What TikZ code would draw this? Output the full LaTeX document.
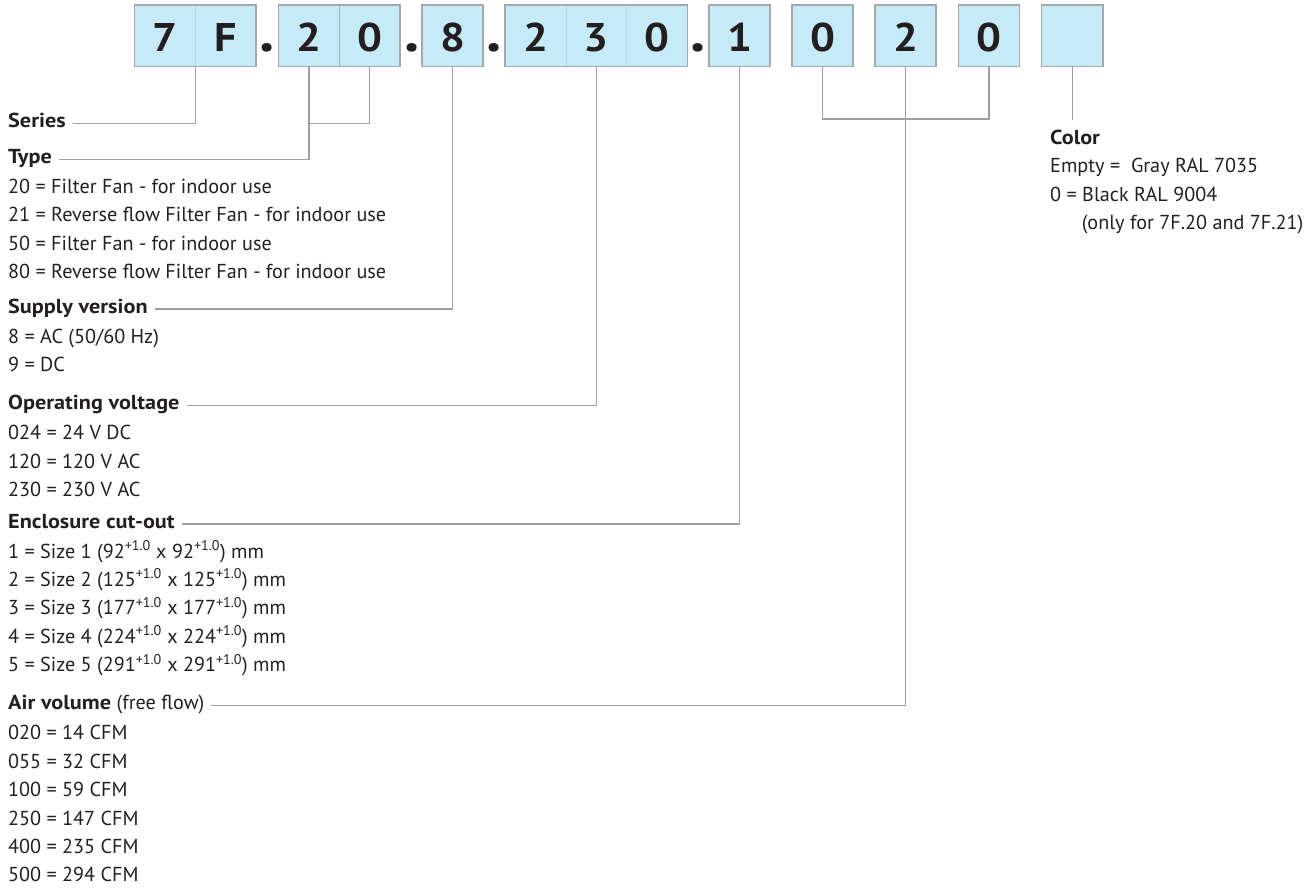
\documentclass[tikz,border=0pt]{standalone}
\usepackage{fontspec}
\setmainfont{PT Sans}[BoldFeatures={FakeStretch=1.1}]
\definecolor{cellblue}{RGB}{199,234,249}
\definecolor{framegray}{RGB}{168,168,168}
\definecolor{faintdiv}{RGB}{186,216,231}
\definecolor{linegray}{RGB}{160,160,160}
\definecolor{txt}{RGB}{35,31,32}
\begin{document}
\begin{tikzpicture}[x=1pt,y=-1pt,
  cellbox/.style={fill=cellblue, draw=none, minimum width=60.7pt, minimum height=61pt, inner sep=0pt, anchor=north west},
  boxframe/.style={draw=framegray, line width=1.5pt},
  conn/.style={draw=linegray, line width=1.3pt},
  digit/.style={font=\fontsize{40}{40}\selectfont\bfseries, text=txt, anchor=base, inner sep=0pt},
  sepdot/.style={font=\fontsize{56}{56}\selectfont\bfseries, text=txt, anchor=base, inner sep=0pt},
  hdr/.style={font=\fontsize{20.2}{24}\selectfont\bfseries, text=txt, anchor=base west, inner sep=0pt},
  itm/.style={font=\fontsize{20.2}{24}\selectfont, text=txt, anchor=base west, inner sep=0pt}]
\useasboundingbox (0,0) rectangle (1309,890);
% cells
\node[cellbox] (c1) at (134.3,5) {};
\node[cellbox] (c2) at (195,5) {};
\node[cellbox] (c3) at (278.3,5) {};
\node[cellbox] (c4) at (339,5) {};
\node[cellbox] (c5) at (422,5) {};
\node[cellbox] (c6) at (505,5) {};
\node[cellbox] (c7) at (565.6,5) {};
\node[cellbox] (c8) at (626.2,5) {};
\node[cellbox] (c9) at (709,5) {};
\node[cellbox] (c10) at (792,5) {};
\node[cellbox] (c11) at (875,5) {};
\node[cellbox] (c12) at (958.3,5) {};
\node[cellbox] (c13) at (1041.7,5) {};
% dividers
\draw[faintdiv, line width=1pt] (c1.north east) -- (c1.south east);
\draw[framegray, line width=1.5pt] (c3.north east) -- (c3.south east);
\draw[faintdiv, line width=1pt] (c6.north east) -- (c6.south east);
\draw[faintdiv, line width=1pt] (c7.north east) -- (c7.south east);
% frames
\draw[boxframe] (c1.north west) rectangle (c2.south east);
\draw[boxframe] (c3.north west) rectangle (c4.south east);
\draw[boxframe] (c5.north west) rectangle (c5.south east);
\draw[boxframe] (c6.north west) rectangle (c8.south east);
\draw[boxframe] (c9.north west) rectangle (c9.south east);
\draw[boxframe] (c10.north west) rectangle (c10.south east);
\draw[boxframe] (c11.north west) rectangle (c11.south east);
\draw[boxframe] (c12.north west) rectangle (c12.south east);
\draw[boxframe] (c13.north west) rectangle (c13.south east);
% digits
\node[digit] (d1) at (c1.center |- 0,52) {7};
\node[digit] (d2) at (c2.center |- 0,52) {F};
\node[digit] (d3) at (c3.center |- 0,52) {2};
\node[digit] (d4) at (c4.center |- 0,52) {0};
\node[digit] (d5) at (c5.center |- 0,52) {8};
\node[digit] (d6) at (c6.center |- 0,52) {2};
\node[digit] (d7) at (c7.center |- 0,52) {3};
\node[digit] (d8) at (c8.center |- 0,52) {0};
\node[digit] (d9) at (c9.center |- 0,52) {1};
\node[digit] (d10) at (c10.center |- 0,52) {0};
\node[digit] (d11) at (c11.center |- 0,52) {2};
\node[digit] (d12) at (c12.center |- 0,52) {0};
% dots
\node[sepdot] (p1) at (266.7,52) {.};
\node[sepdot] (p2) at (411.7,52) {.};
\node[sepdot] (p3) at (494,52) {.};
\node[sepdot] (p4) at (697.7,52) {.};
% headings
\node[hdr] (series) at (8,127.5) {Series};
\node[hdr] (type) at (8,163.5) {Type};
\node[hdr] (supply) at (8,313.2) {Supply version};
\node[hdr] (opv) at (8,409.9) {Operating voltage};
\node[hdr] (encl) at (8,528.2) {Enclosure cut-out};
\node[hdr] (air) at (8,709.9) {Air volume {\mdseries (free flow)}};
% items
\node[itm] (t1) at (8,193.4) {20 = Filter Fan - for indoor use};
\node[itm] (t2) at (8,221.8) {21 = Reverse flow Filter Fan - for indoor use};
\node[itm] (t3) at (8,250.2) {50 = Filter Fan - for indoor use};
\node[itm] (t4) at (8,278.6) {80 = Reverse flow Filter Fan - for indoor use};
\node[itm] (s1) at (8,343.1) {8 = AC (50/60 Hz)};
\node[itm] (s2) at (8,371.5) {9 = DC};
\node[itm] (o1) at (8,439.8) {024 = 24 V DC};
\node[itm] (o2) at (8,468.2) {120 = 120 V AC};
\node[itm] (o3) at (8,496.6) {230 = 230 V AC};
\node[itm] (e1) at (8,558.1) {1 = Size 1 (92\textsuperscript{+1.0} x 92\textsuperscript{+1.0}) mm};
\node[itm] (e2) at (8,586.5) {2 = Size 2 (125\textsuperscript{+1.0} x 125\textsuperscript{+1.0}) mm};
\node[itm] (e3) at (8,614.9) {3 = Size 3 (177\textsuperscript{+1.0} x 177\textsuperscript{+1.0}) mm};
\node[itm] (e4) at (8,643.3) {4 = Size 4 (224\textsuperscript{+1.0} x 224\textsuperscript{+1.0}) mm};
\node[itm] (e5) at (8,671.7) {5 = Size 5 (291\textsuperscript{+1.0} x 291\textsuperscript{+1.0}) mm};
\node[itm] (a1) at (8,739.8) {020 = 14 CFM};
\node[itm] (a2) at (8,768.2) {055 = 32 CFM};
\node[itm] (a3) at (8,796.6) {100 = 59 CFM};
\node[itm] (a4) at (8,825) {250 = 147 CFM};
\node[itm] (a5) at (8,853.4) {400 = 235 CFM};
\node[itm] (a6) at (8,881.8) {500 = 294 CFM};
% color
\node[hdr] (color) at (1050,144.5) {Color};
\node[itm] (k1) at (1050,173) {Empty =\ \ Gray RAL 7035};
\node[itm] (k2) at (1050,201.4) {0 = Black RAL 9004};
\node[itm] (k3) at (1081.7,229.8) {(only for 7F.20 and 7F.21)};
% connectors
\draw[conn] (c1.south east) |- ([xshift=7pt]series.east |- 0,123.3);
\draw[conn] (c4.south) -- (c4.south |- 0,123.3) -| (c3.south);
\draw[conn] (c3.south) |- ([xshift=7pt]type.east |- 0,159.3);
\draw[conn] (c5.south) |- ([xshift=7pt]supply.east |- 0,309);
\draw[conn] (c7.south) |- ([xshift=7pt]opv.east |- 0,405.7);
\draw[conn] (c9.south) |- ([xshift=7pt]encl.east |- 0,524);
\draw[conn] (c10.south) -- (c10.south |- 0,119) -| (c12.south);
\draw[conn] (c11.south) |- ([xshift=7pt]air.east |- 0,705.7);
\coordinate (colend) at (c13.south |- 0,120);
\draw[conn] (c13.south) -- (colend);
\end{tikzpicture}
\end{document}
